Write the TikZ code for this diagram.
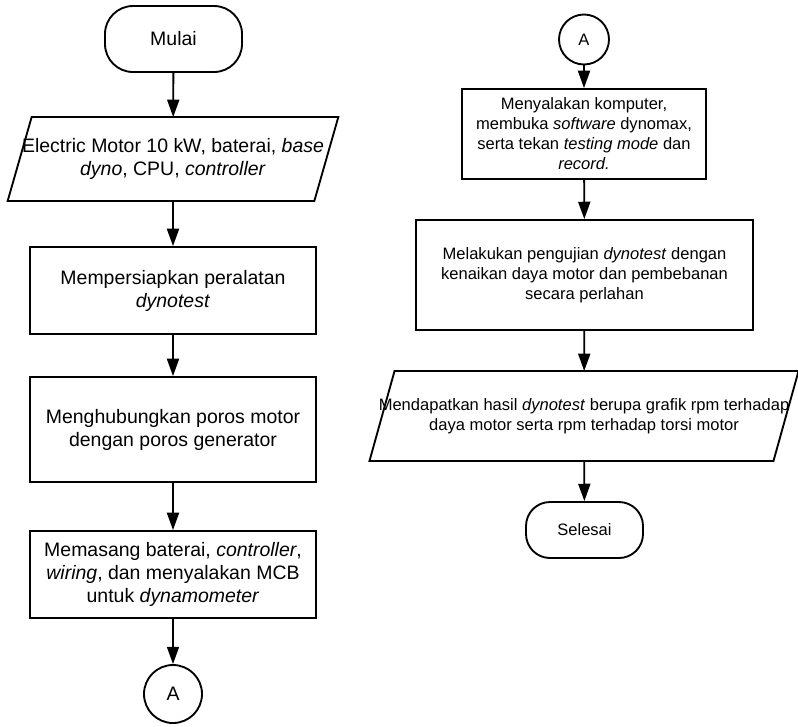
\documentclass[tikz,border=0pt]{standalone}
\usepackage{fontspec}
\setmainfont{Liberation Sans}
\usetikzlibrary{arrows.meta}
\tikzset{
  lfont/.style={font=\fontsize{14.6}{17.25}\selectfont},
  rfont/.style={font=\fontsize{12.4}{15}\selectfont},
  shp/.style={draw, line width=1.4pt, inner sep=0pt, align=center},
  procL/.style={shp, lfont, rectangle, minimum width=214.5pt},
  procR/.style={shp, rfont, rectangle},
  term/.style={shp, rectangle, rounded corners=21pt},
  conn/.style={shp, circle},
  iobox/.style={inner sep=0pt, outer sep=0pt},
  ioline/.style={line width=1.4pt, line join=miter},
  flow/.style={-{Triangle[length=13pt,width=9pt]}, line width=1.4pt}
}
\begin{document}
\begin{tikzpicture}[x=0.75pt,y=-0.75pt]
\useasboundingbox (0,0) rectangle (798,726);
% left column
\node[term, lfont, minimum width=102.75pt, minimum height=49.5pt] (mulai) at (173.5,39) {Mulai};
\node[iobox, minimum width=230pt, minimum height=63pt] (in1) at (173,159) {};
\draw[ioline] ([xshift=9pt]in1.north west) -- ([xshift=9pt]in1.north east) -- ([xshift=-9pt]in1.south east) -- ([xshift=-9pt]in1.south west) -- cycle;
\node[lfont, align=center, inner sep=0pt] (in1t) at (in1.center) {Electric Motor 10 kW, baterai, \textit{base}\\\textit{dyno}, CPU, \textit{controller}};
\node[procL, minimum height=65.25pt] (l1) at (173,290.5) {Mempersiapkan peralatan\\\textit{dynotest}};
\node[procL, minimum height=78.75pt] (l2) at (173,429.5) {Menghubungkan poros motor\\dengan poros generator};
\node[procL, minimum height=65.25pt] (l3) at (173,574.5) {Memasang baterai, \textit{controller},\\\textit{wiring}, dan menyalakan MCB\\untuk \textit{dynamometer}};
\node[conn, lfont, minimum size=43.5pt] (al) at (173,694) {A};
\draw[flow] (mulai) -- (in1);
\draw[flow] (in1) -- (l1);
\draw[flow] (l1) -- (l2);
\draw[flow] (l2) -- (l3);
\draw[flow] (l3) -- (al);
% right column
\node[conn, rfont, minimum size=37.5pt] (ar) at (584,39.5) {A};
\node[procR, minimum width=183pt, minimum height=67.5pt] (r1) at (584,134) {Menyalakan komputer,\\membuka \textit{software} dynomax,\\serta tekan \textit{testing mode} dan\\\textit{record.}};
\node[procR, minimum width=252.75pt, minimum height=82.5pt] (r2) at (584.5,275) {Melakukan pengujian \textit{dynotest} dengan\\kenaikan daya motor dan pembebanan\\secara perlahan};
\node[iobox, minimum width=303pt, minimum height=67.5pt] (out1) at (584,416) {};
\draw[ioline] ([xshift=9.4pt]out1.north west) -- ([xshift=9.4pt]out1.north east) -- ([xshift=-9.4pt]out1.south east) -- ([xshift=-9.4pt]out1.south west) -- cycle;
\node[rfont, align=center, inner sep=0pt] (out1t) at (out1.center) {Mendapatkan hasil \textit{dynotest} berupa grafik rpm terhadap\\daya motor serta rpm terhadap torsi motor};
\node[term, rfont, minimum width=87.75pt, minimum height=42pt, rounded corners=18pt] (selesai) at (584.5,530) {Selesai};
\draw[flow] (ar) -- (r1);
\draw[flow] (r1) -- (r2);
\draw[flow] (r2) -- (out1);
\draw[flow] (out1) -- (selesai);
\end{tikzpicture}
\end{document}
